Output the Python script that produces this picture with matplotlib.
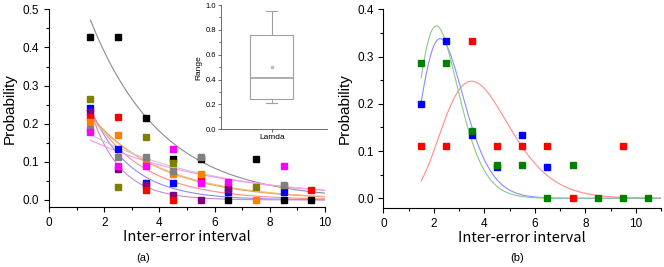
import numpy as np
import matplotlib.pyplot as plt
from matplotlib.ticker import MultipleLocator

OUT = "out.png"
CJK = ["Noto Sans CJK JP", "DejaVu Sans"]
plt.rcParams["font.family"] = ["Liberation Sans", "DejaVu Sans"]

# panel (a): probability per inter-error interval, one series per subject
a_colors = ["#000000", "#808000", "#0000ff", "#800080", "#ff0000", "#ff8000", "#808080", "#ff00ff"]
a_fit_colors = ["#8c8c8c", "#c8a860", "#8c8cff", "#c88cc8", "#ff8c8c", "#ffb870", "#c8c8c8", "#ff8cff"]
a_x = [
    [1.5, 2.5, 3.5, 4.5, 5.5, 6.5, 7.5, 8.5, 9.5],
    [1.5, 2.5, 3.5, 4.5, 6.5, 7.5, 8.5],
    [1.5, 2.5, 3.5, 4.5, 6.5, 8.5],
    [1.5, 2.5, 3.5, 4.5, 5.5, 6.5],
    [1.5, 2.5, 3.5, 4.5, 5.5, 9.5],
    [1.5, 2.5, 3.5, 4.5, 5.5, 7.5],
    [1.5, 2.5, 3.5, 4.5, 5.5, 8.5],
    [1.5, 2.5, 3.5, 4.5, 5.5, 6.5, 8.5],
]
a_y = [
    [0.428, 0.428, 0.214, 0.107, 0.107, 0.0, 0.107, 0.0, 0.0],
    [0.264, 0.033, 0.166, 0.098, 0.033, 0.035, 0.036],
    [0.240, 0.133, 0.045, 0.044, 0.022, 0.022],
    [0.232, 0.081, 0.040, 0.014, 0.0, 0.028],
    [0.218, 0.217, 0.027, 0.0, 0.054, 0.026],
    [0.205, 0.170, 0.100, 0.067, 0.069, 0.0],
    [0.185, 0.112, 0.112, 0.075, 0.112, 0.038],
    [0.177, 0.090, 0.090, 0.134, 0.045, 0.046, 0.090],
]
# exponential fits: value at x=1.5 and decay rate
a_fit_amp = [0.472, 0.222, 0.240, 0.235, 0.230, 0.215, 0.172, 0.157]
a_fit_k = [0.385, 0.39, 0.69, 0.95, 0.52, 0.37, 0.226, 0.214]

# inset box plot of lambda
lam_stats = dict(label="Lamda", whislo=0.215, q1=0.24, med=0.415, q3=0.76,
                 whishi=0.95, mean=0.5, fliers=[])

# panel (b)
b_colors = ["#ff0000", "#0000ff", "#008000"]
b_fit_colors = ["#ff8c8c", "#8c8cff", "#8cc88c"]
b_x = [
    [1.5, 2.5, 3.5, 4.5, 5.5, 6.5, 7.5, 9.5],
    [1.5, 2.5, 3.5, 4.5, 5.5, 6.5],
    [1.5, 2.5, 3.5, 4.5, 5.5, 6.5, 7.5, 8.5, 9.5, 10.5],
]
b_y = [
    [0.111, 0.111, 0.333, 0.111, 0.111, 0.111, 0.0, 0.111],
    [0.200, 0.333, 0.133, 0.067, 0.133, 0.067],
    [0.286, 0.286, 0.143, 0.071, 0.071, 0.0, 0.071, 0.0, 0.0, 0.0],
]
# gamma-shaped fits: peak height, peak position, shape
b_fit_peak = [0.248, 0.338, 0.365]
b_fit_xc = [3.5, 2.25, 2.1]
b_fit_shape = [6.9, 7.0, 7.0]


def style_axes(ax):
    for s in ["top", "right"]:
        ax.spines[s].set_visible(False)
    ax.tick_params(direction="out", length=3.5, width=0.8, labelsize=8.5)
    ax.tick_params(which="minor", direction="out", length=2, width=0.8)
    ax.xaxis.set_minor_locator(MultipleLocator(1))
    ax.yaxis.set_minor_locator(MultipleLocator(0.05))
    ax.yaxis.set_major_formatter(plt.FormatStrFormatter("%.1f"))


fig = plt.figure(figsize=(6.64, 2.67), dpi=100)

# (a)
ax = fig.add_axes([0.0738, 0.2247, 0.4157, 0.7404])
xs = np.linspace(1.5, 10, 200)
for amp, k, c in zip(a_fit_amp, a_fit_k, a_fit_colors):
    ax.plot(xs, amp * np.exp(-k * (xs - 1.5)), color=c, lw=0.8)
for x, y, c in zip(a_x, a_y, a_colors):
    ax.plot(x, y, "s", color=c, ms=3.8, mec=c)
ax.set_xlim(0, 10)
ax.set_ylim(-0.0184, 0.5)
ax.set_xticks([0, 2, 4, 6, 8, 10])
ax.set_yticks([0, 0.1, 0.2, 0.3, 0.4, 0.5])
style_axes(ax)
ax.set_ylabel("Probability", fontsize=11, labelpad=4)
ax.set_xlabel("Inter-error interval", family=CJK, fontsize=10.5, labelpad=1)
fig.text(143 / 664, 1 - 258 / 267, "(a)", ha="center", va="center", fontsize=8)

# inset
ins = fig.add_axes([220.7 / 664, 1 - 129.3 / 267, 106 / 664, 124.3 / 267])
bp = ins.bxp([lam_stats], positions=[1], widths=0.55, showmeans=True,
             boxprops=dict(color="#a0a0a0", lw=0.8),
             medianprops=dict(color="#a0a0a0", lw=1.2),
             whiskerprops=dict(color="#a0a0a0", lw=0.8),
             capprops=dict(color="#a0a0a0", lw=0.8),
             meanprops=dict(marker="s", ms=1.5, mfc="#c0c0c0", mec="#c0c0c0"))
bp["caps"][0].set_xdata([0.93, 1.07])
bp["caps"][1].set_xdata([0.93, 1.07])
ins.set_xlim(0.35, 1.7)
ins.set_ylim(0, 1.0)
ins.set_yticks([0, 0.2, 0.4, 0.6, 0.8, 1.0])
ins.yaxis.set_minor_locator(MultipleLocator(0.1))
ins.yaxis.set_major_formatter(plt.FormatStrFormatter("%.1f"))
for s in ["top", "right"]:
    ins.spines[s].set_visible(False)
for s in ["left", "bottom"]:
    ins.spines[s].set_color("#555555")
    ins.spines[s].set_linewidth(0.6)
ins.tick_params(direction="out", length=2, width=0.6, labelsize=5.5, pad=1.5, color="#555555")
ins.tick_params(axis="x", labelsize=6)
ins.tick_params(which="minor", direction="out", length=1.2, width=0.6, color="#555555")
ins.set_ylabel("Range", fontsize=6, labelpad=2)
ins.patch.set_alpha(0)

# (b)
bx = fig.add_axes([0.5773, 0.2198, 0.4182, 0.7453])
xs = np.linspace(1.5, 11, 250)
for pk, xc, sh, c in zip(b_fit_peak, b_fit_xc, b_fit_shape, b_fit_colors):
    r = xs / xc
    bx.plot(xs, pk * np.exp(sh * (np.log(r) - r + 1)), color=c, lw=0.8)
for x, y, c in zip(b_x, b_y, b_colors):
    bx.plot(x, y, "s", color=c, ms=3.8, mec=c)
bx.set_xlim(0, 11)
bx.set_ylim(-0.0212, 0.4)
bx.set_xticks([0, 2, 4, 6, 8, 10])
bx.set_yticks([0, 0.1, 0.2, 0.3, 0.4])
style_axes(bx)
bx.set_ylabel("Probability", fontsize=11, labelpad=4)
bx.set_xlabel("Inter-error interval", family=CJK, fontsize=10.5, labelpad=1)
fig.text(516.7 / 664, 1 - 258 / 267, "(b)", ha="center", va="center", fontsize=8)

fig.savefig(OUT, dpi=100)
